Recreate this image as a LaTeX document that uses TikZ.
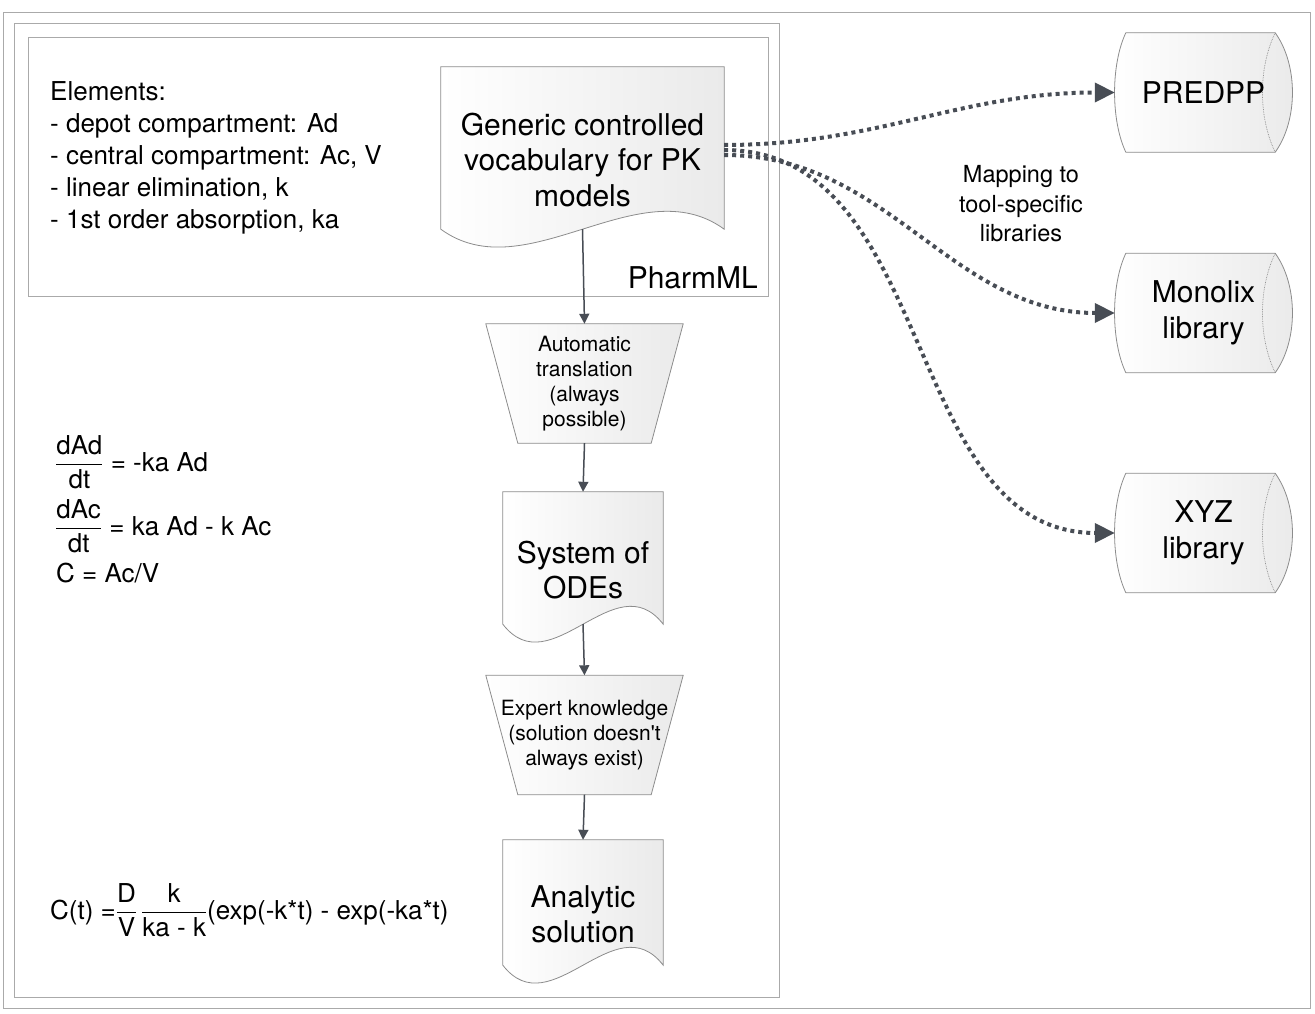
\documentclass[tikz,border=0pt]{standalone}
\usepackage{amsmath}
\usepackage{fontspec}
\setmainfont{TeX Gyre Heros}
\usepackage{tikz}
\usetikzlibrary{arrows.meta,calc,backgrounds}

\definecolor{framegray}{RGB}{170,170,170}
\definecolor{edgegray}{RGB}{140,140,140}
\definecolor{arrowgray}{RGB}{72,77,85}
\definecolor{shadegray}{RGB}{234,234,234}

\newcommand{\docfont}{\fontsize{30}{35.5}\selectfont}
\newcommand{\notefont}{\fontsize{26}{32}\selectfont}
\newcommand{\mapfont}{\fontsize{23.5}{29.5}\selectfont}
\newcommand{\stepfont}{\fontsize{21}{25}\selectfont}

% document with a wavy lower edge
\newcommand{\wavedoc}[1]{%
  \draw[shapeline]
    (#1.north west) -- (#1.north east) -- (#1.south east)
    .. controls ($(#1.south west)!0.7!(#1.south east)+(0,-62)$)
    and ($(#1.south west)!0.3!(#1.south east)+(0,62)$) .. (#1.south west) -- cycle;}
% trapezoid, narrow side down
\newcommand{\funnel}[1]{%
  \draw[shapeline]
    (#1.north west) -- (#1.north east) -- ($(#1.south east)+(-32,0)$)
    -- ($(#1.south west)+(32,0)$) -- cycle;}
% lying drum
\newcommand{\drum}[1]{%
  \draw[shapeline]
    ($(#1.north west)+(11,0)$) -- ($(#1.north east)+(-17,0)$)
    .. controls ($(#1.north east)+(6,32)$) and ($(#1.south east)+(6,-32)$) .. ($(#1.south east)+(-17,0)$)
    -- ($(#1.south west)+(11,0)$)
    .. controls ($(#1.south west)+(-4,-32)$) and ($(#1.north west)+(-4,32)$) .. cycle;
  \draw[edgegray,line width=0.7pt,densely dotted] ($(#1.north east)+(-17,0)$)
    .. controls ($(#1.north east)+(-34,35)$) and ($(#1.south east)+(-34,-35)$) .. ($(#1.south east)+(-17,0)$);}

\begin{document}
\begin{tikzpicture}[x=1pt,y=-1pt,
    shapeline/.style={draw=edgegray,line width=0.8pt,left color=white,right color=shadegray},
    frame/.style={draw=framegray,line width=0.9pt},
    docnode/.style={minimum width=160pt,inner sep=0pt},
    funnelnode/.style={minimum width=197pt,minimum height=119pt,inner sep=0pt,
      font=\stepfont,align=center},
    drumnode/.style={minimum width=177pt,minimum height=119pt,inner sep=0pt,
      font=\docfont,align=center},
    doctext/.style={font=\docfont,align=center,yshift=-12pt},
    flow/.style={-{Triangle[length=10pt,width=10pt]},line width=1.5pt,draw=arrowgray},
    mapping/.style={-{Triangle[length=20pt,width=19pt]},line width=4pt,draw=arrowgray,
      dash pattern=on 4pt off 4pt}]
  \useasboundingbox (0,0) rectangle (1315,1014);

  % frames
  \draw[frame] (3,12) rectangle (1310,1008);
  \draw[frame] (14,23) rectangle (779,997);
  \draw[frame] (28,37) rectangle (768,296);

  % PharmML part
  \node[font=\notefont,align=left,anchor=west,inner sep=0pt] (elements) at (50,158)
    {Elements:\\- depot compartment: Ad\\- central compartment: Ac, V\\- linear elimination, k\\- 1st order absorption, ka};
  \node[font=\docfont,anchor=east,inner sep=0pt] (pharmml) at (758,278) {PharmML};
  \node[docnode,minimum width=283pt,minimum height=162pt,
    label={[doctext]center:Generic controlled\\vocabulary for PK\\models}] (generic) at (582.5,148) {};

  % flow down
  \node[funnelnode] (translate) at (584.5,383.5) {Automatic\\translation\\(always\\possible)};
  \node[docnode,minimum height=132pt,
    label={[doctext]center:System of\\ODEs}] (odes) at (583,558) {};
  \node[funnelnode] (expert) at (584.5,735) {Expert knowledge\\(solution doesn\textquotesingle t\\always exist)};
  \node[docnode,minimum height=125pt,
    label={[doctext]center:Analytic\\solution}] (analytic) at (583,902.5) {};

  % equations
  \node[font=\notefont,anchor=west,inner sep=0pt] (odeA) at (55,462)
    {$\dfrac{\text{dAd}}{\text{dt}}$ = -ka Ad};
  \node[font=\notefont,anchor=west,inner sep=0pt] (odeB) at (55,526)
    {$\dfrac{\text{dAc}}{\text{dt}}$ = ka Ad - k Ac};
  \node[font=\notefont,anchor=west,inner sep=0pt] (conc) at (56,573) {C = Ac/V};
  \node[font=\notefont,anchor=west,inner sep=0pt] (closed) at (50,910)
    {C(t) =$\dfrac{\text{D}}{\text{V}}\,\dfrac{\text{k}}{\text{ka - k}}$(exp(-k*t) - exp(-ka*t)};

  % tool libraries
  \node[drumnode] (predpp) at (1203.5,92.5) {PREDPP};
  \node[drumnode] (monolix) at (1203.5,313) {Monolix\\library};
  \node[drumnode] (xyz) at (1203.5,533) {XYZ\\library};
  \node[font=\mapfont,align=center] (maplabel) at (1021,204) {Mapping to\\tool-specific\\libraries};

  \begin{scope}[on background layer]
    \wavedoc{generic}
    \wavedoc{odes}
    \wavedoc{analytic}
    \funnel{translate}
    \funnel{expert}
    \drum{predpp}
    \drum{monolix}
    \drum{xyz}
  \end{scope}

  \draw[flow] (generic.south) -- (translate.north);
  \draw[flow] (translate.south) -- (odes.north);
  \draw[flow] (odes.south) -- (expert.north);
  \draw[flow] (expert.south) -- (analytic.north);

  \draw[mapping] ([yshift=3pt]generic.east) to[out=0,in=180] (predpp.west);
  \draw[mapping] ([yshift=-2pt]generic.east) to[out=0,in=180] (xyz.west);
  \draw[mapping] ([yshift=-7pt]generic.east) to[out=0,in=180] (monolix.west);
\end{tikzpicture}
\end{document}
